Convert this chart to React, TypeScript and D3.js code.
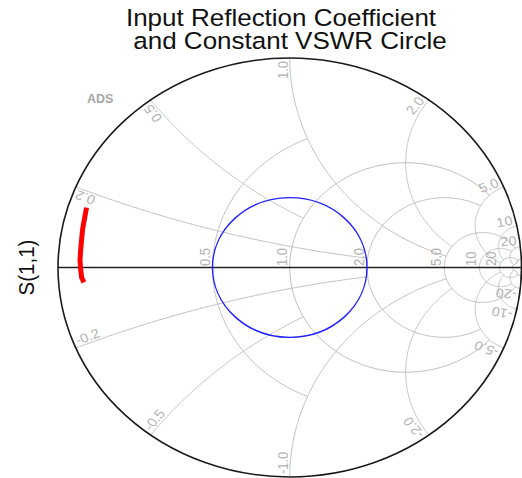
import React from 'react';
import * as d3 from 'd3';

const WIDTH = 522;
const HEIGHT = 478;
// horizontal stretch of the drawing (plot is wider than tall)
const STRETCH = 1.107;

const titleLines = ['Input Reflection Coefficient', 'and Constant VSWR Circle'];
const yAxisLabel = 'S(1,1)';
const brandLabel = 'ADS';

// constant-resistance circles, and the |x| up to which each one is drawn
const resistanceValues = [0.5, 1, 2, 5, 10, 20, 50];
const resistanceReach = [1, 5, 5, 20, 20, 50, 50];
const resistanceLabels = ['0.5', '1.0', '2.0', '5.0', '10', '20', ''];

// constant-reactance arcs, and the r up to which each one is drawn
const reactanceValues = [0.2, 0.5, 1, 2, 5, 10, 20, 50];
const reactanceReach = [2, 1, 5, 5, 20, 20, 50, 50];
const reactanceLabels = ['0.2', '0.5', '1.0', '2.0', '5.0', '10', '20', ''];

// S(1,1) trace, reflection coefficient (real, imaginary)
const s11Re = [-0.877, -0.884, -0.894, -0.901, -0.905, -0.903, -0.898, -0.888];
const s11Im = [0.286, 0.243, 0.181, 0.1, 0.038, 0.0, -0.048, -0.071];

// constant VSWR circle
const vswrValue = 2;

type Pt = [number, number];

const toGamma = (r: number, x: number): Pt => {
  const d = (r + 1) ** 2 + x * x;
  return [(r * r + x * x - 1) / d, (2 * x) / d];
};

function sampleArc(c: Pt, rad: number, a0: number, a1: number, n = 240): Pt[] {
  return d3.range(n + 1).map((i) => {
    const a = a0 + ((a1 - a0) * i) / n;
    return [c[0] + rad * Math.cos(a), c[1] + rad * Math.sin(a)] as Pt;
  });
}

function resistancePath(r: number, xMax: number): Pt[] {
  const c: Pt = [r / (1 + r), 0];
  const rad = 1 / (1 + r);
  const top = toGamma(r, xMax);
  const aTop = Math.atan2(top[1], top[0] - c[0]);
  return sampleArc(c, rad, aTop, 2 * Math.PI - aTop);
}

function reactancePath(x: number, rMax: number): Pt[] {
  const ax = Math.abs(x);
  const c: Pt = [1, 1 / ax];
  const rad = 1 / ax;
  const norm = (a: number) => {
    let b = a;
    while (b < Math.PI / 2 - 1e-9) b += 2 * Math.PI;
    while (b > (5 * Math.PI) / 2) b -= 2 * Math.PI;
    return b;
  };
  const e0 = toGamma(0, ax);
  const e1 = toGamma(rMax, ax);
  const a0 = norm(Math.atan2(e0[1] - c[1], e0[0] - c[0]));
  const a1 = norm(Math.atan2(e1[1] - c[1], e1[0] - c[0]));
  const pts = sampleArc(c, rad, a0, a1);
  return x < 0 ? pts.map(([u, v]) => [u, -v] as Pt) : pts;
}

export default function App() {
  const xScale = d3.scaleLinear().domain([-1, 1]).range([58, 521.5]);
  const yScale = d3.scaleLinear().domain([-1, 1]).range([477, 58]);
  const line = d3
    .line<Pt>()
    .x((d) => xScale(d[0]))
    .y((d) => yScale(d[1]));

  const cx = xScale(0);
  const cy = yScale(0);
  const rx = xScale(1) - cx;
  const ry = cy - yScale(1);

  const gridColor = '#bfbfbf';
  const labelColor = '#b2b2b2';
  const font = 'Liberation Sans, Arial, sans-serif';

  const vswrGamma = (vswrValue - 1) / (vswrValue + 1);
  const s11Points: Pt[] = s11Re.map((re, i) => [re, s11Im[i]]);

  const rimLabels: { text: string; x: number; sign: number }[] = [];
  reactanceValues.forEach((v, i) => {
    if (!reactanceLabels[i]) return;
    rimLabels.push({ text: reactanceLabels[i], x: v, sign: 1 });
    rimLabels.push({ text: '-' + reactanceLabels[i], x: -v, sign: -1 });
  });

  return (
    <svg
      width={WIDTH}
      height={HEIGHT}
      style={{ position: 'absolute', left: 0, top: 0, background: '#fff' }}
      fontFamily={font}
    >
      <rect x={0} y={0} width={WIDTH} height={HEIGHT} fill="#fff" />

      {/* title */}
      <text transform={`translate(281,26) scale(${STRETCH},1)`} textAnchor="middle" fontSize={23.5} fill="#111">
        {titleLines[0]}
      </text>
      <text transform={`translate(290,48.5) scale(${STRETCH},1)`} textAnchor="middle" fontSize={23.5} fill="#111">
        {titleLines[1]}
      </text>

      {/* y-axis label */}
      <text
        transform={`translate(34,${cy}) scale(${STRETCH},1) rotate(-90)`}
        textAnchor="middle"
        fontSize={20.5}
        fill="#111"
      >
        {yAxisLabel}
      </text>

      <text x={87} y={103} fontSize={12.5} fontWeight="bold" fill="#a6a6a6">
        {brandLabel}
      </text>

      {/* grid */}
      <g fill="none" stroke={gridColor} strokeWidth={1}>
        {resistanceValues.map((r, i) => (
          <path key={`r${r}`} d={line(resistancePath(r, resistanceReach[i])) || ''} />
        ))}
        {reactanceValues.map((x, i) => (
          <g key={`x${x}`}>
            <path d={line(reactancePath(x, reactanceReach[i])) || ''} />
            <path d={line(reactancePath(-x, reactanceReach[i])) || ''} />
          </g>
        ))}
      </g>

      {/* resistance labels along the real axis */}
      <g fontSize={13} fill={labelColor}>
        {resistanceValues.map((r, i) =>
          resistanceLabels[i] ? (
            <text
              key={`rl${r}`}
              transform={`translate(${xScale((r - 1) / (r + 1)) - 3},${cy - 1.5}) scale(${STRETCH},1) rotate(-90)`}
            >
              {resistanceLabels[i]}
            </text>
          ) : null
        )}
      </g>

      {/* reactance labels around the rim */}
      <g fontSize={13} fill={labelColor}>
        {rimLabels.map((l) => {
          const g = toGamma(0, l.x);
          const phi = (Math.atan2(g[1], g[0]) * 180) / Math.PI;
          const k = 0.986;
          const rot = l.sign > 0 ? -phi : 180 - phi;
          return (
            <text
              key={l.text}
              transform={`translate(${xScale(g[0] * k)},${yScale(g[1] * k)}) scale(${STRETCH},1) rotate(${rot})`}
              textAnchor={l.sign > 0 ? 'end' : 'start'}
              dy={-2}
            >
              {l.text}
            </text>
          );
        })}
      </g>

      {/* real axis */}
      <line x1={xScale(-1)} x2={xScale(1)} y1={cy} y2={cy} stroke="#222" strokeWidth={1.5} />

      {/* outer boundary |Γ| = 1 */}
      <ellipse cx={cx} cy={cy} rx={rx} ry={ry} fill="none" stroke="#1a1a1a" strokeWidth={1.6} />

      {/* constant VSWR circle */}
      <ellipse
        cx={cx}
        cy={cy}
        rx={xScale(vswrGamma) - cx}
        ry={cy - yScale(vswrGamma)}
        fill="none"
        stroke="#1f1fff"
        strokeWidth={1.4}
      />

      {/* S(1,1) */}
      <path d={line(s11Points) || ''} fill="none" stroke="#ff0000" strokeWidth={5} />
    </svg>
  );
}
